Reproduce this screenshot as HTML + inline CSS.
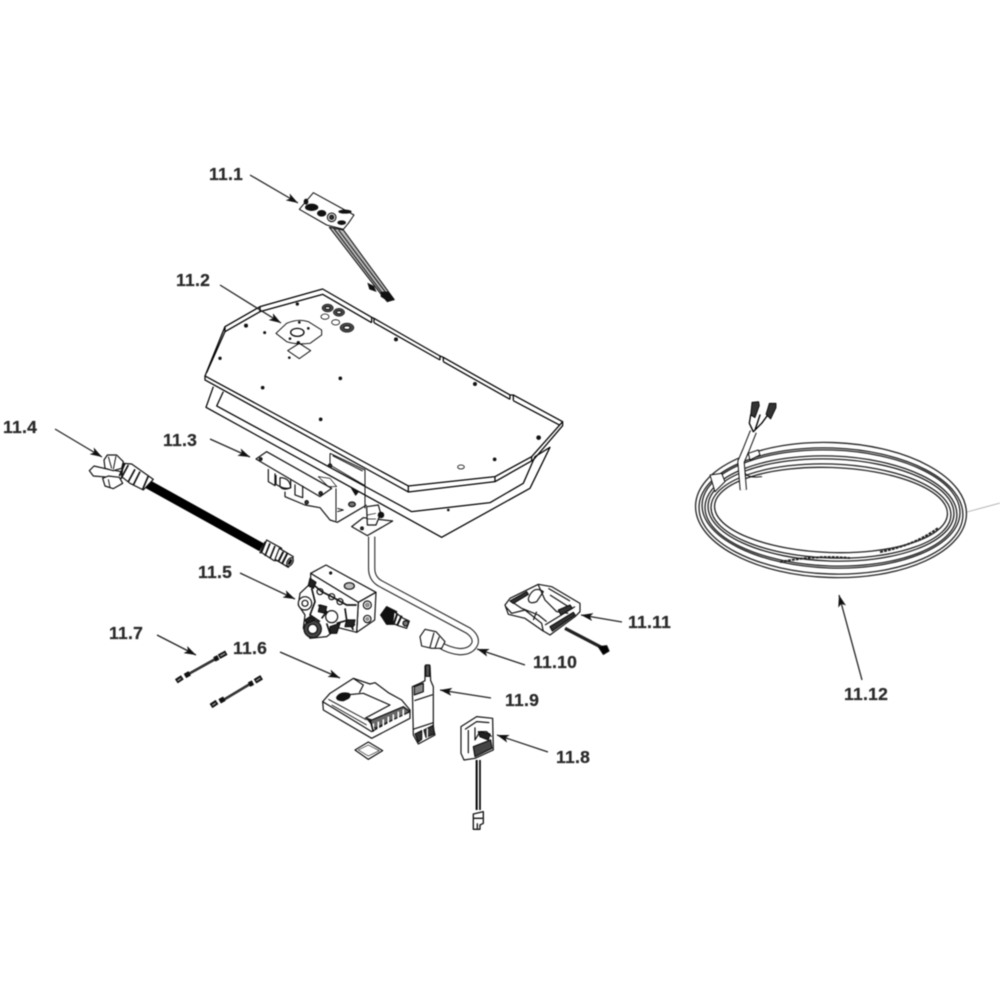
<!DOCTYPE html>
<html><head><meta charset="utf-8"><title>Parts diagram</title>
<style>
html,body{margin:0;padding:0;background:#fff}
svg{display:block;filter:blur(.55px)}
text{font-family:"Liberation Sans",sans-serif;font-weight:bold;font-size:17.5px;fill:#2a2a2a;stroke:#2a2a2a;stroke-width:.25px;letter-spacing:.25px}
</style></head><body>
<svg width="1000" height="1000" viewBox="0 0 1000 1000" xmlns="http://www.w3.org/2000/svg">
<rect width="1000" height="1000" fill="#fff"/>
<defs>
<marker id="a" viewBox="0 0 12 8" refX="12" refY="4" markerWidth="12" markerHeight="8" markerUnits="userSpaceOnUse" orient="auto"><path d="M0 0L12 4L0 8L3 4Z" fill="#111"/></marker>
</defs>
<g>
<!-- 11.2 tray -->
<g transform="translate(190,280) scale(.3333)" fill="none" stroke="#000" stroke-width="3.8" stroke-linejoin="round">
<path d="M70 320L48 382L755 772L1020 625L1080 502L1035 530L1000 610L900 668L665 695L80 378L100 335" fill="#fff"/>
<path d="M45 288L105 140L210 80L398 27L545 112L552 115L750 228L760 232L960 345L970 345L1118 425L1025 530L915 590L655 618Z" fill="#fff"/>
<path d="M50 278L105 155L210 95L398 43L545 128M552 128L750 240M760 245L960 358M970 362L1108 435M1118 425V437L1030 540L915 605L655 636L45 300V288"/>
<path d="M655 618V636M915 590V605M1025 530V542M545 112V128M552 115V128M750 228V240M760 232V245M960 345V358M970 345V362M105 140V155M210 80V95"/>
<path d="M258 160L290 130Q325 115 355 125L395 150V165L360 190Q320 195 290 185Z" stroke-width="2.8"/>
<ellipse cx="322" cy="157" rx="20" ry="12"/>
<path d="M293 212L328 190L362 212L328 236Z" stroke-width="2.8"/>
<g fill="#444" stroke-width="1.5">
<ellipse cx="413" cy="84" rx="17" ry="12"/><ellipse cx="447" cy="97" rx="17" ry="12"/><ellipse cx="471" cy="143" rx="21" ry="14"/>
</g>
<g fill="#fff" stroke-width="2.4"><ellipse cx="413" cy="84" rx="7" ry="4"/><ellipse cx="447" cy="97" rx="7" ry="4"/><ellipse cx="471" cy="143" rx="9" ry="5"/><ellipse cx="405" cy="110" rx="12" ry="8"/><ellipse cx="437" cy="127" rx="12" ry="8"/><ellipse cx="813" cy="561" rx="10" ry="6"/></g>
<g fill="#111" stroke="none">
<circle cx="224" cy="158" r="4.5"/><circle cx="451" cy="295" r="5.5"/><circle cx="218" cy="323" r="5.5"/><circle cx="392" cy="418" r="5.5"/><circle cx="914" cy="538" r="5.5"/><circle cx="1046" cy="473" r="7"/><circle cx="855" cy="312" r="6"/><circle cx="618" cy="178" r="6"/><circle cx="168" cy="137" r="6"/><circle cx="90" cy="235" r="5"/><circle cx="322" cy="72" r="5"/><circle cx="298" cy="233" r="4"/><circle cx="325" cy="188" r="5"/><circle cx="300" cy="176" r="4"/><circle cx="355" cy="145" r="4"/><circle cx="328" cy="127" r="4"/><circle cx="775" cy="690" r="4"/>
</g>
</g>
<!-- 11.3 bracket -->
<g transform="translate(250,445) scale(.3333)" fill="none" stroke="#111" stroke-width="3.6" stroke-linejoin="round">
<path d="M18 42L50 20L245 130L210 155Z" fill="#fff"/>
<path d="M55 72V110L75 122V85M78 90V118Q105 135 122 128L122 102M135 118V150L158 158V122M105 140L105 155L165 180L210 188L240 225L262 232L350 180" />
<path d="M90 98Q120 98 122 128Q100 138 90 125Z"/>
<path d="M240 25V60L345 122V75L240 25M248 32L338 78M258 130V228M345 122V190M262 190L280 195L262 200" stroke-width="3"/>
<path d="M205 95L240 100L260 125L235 125Z" stroke-width="2.2"/>
<path d="M305 245L340 218L428 228L352 272Z" fill="#fff"/>
<path d="M350 185L385 180L392 205L378 240H352Z" fill="#fff"/>
<path d="M352 210L378 205M352 222H378" stroke-width="2"/>
<circle cx="393" cy="210" r="8" fill="#111"/><ellipse cx="306" cy="178" rx="10" ry="7" fill="#777"/><path d="M305 130L325 140L317 150Z" fill="#111"/><circle cx="170" cy="172" r="5" fill="#444"/><circle cx="336" cy="250" r="4" fill="#444"/><circle cx="212" cy="145" r="5" fill="#333"/><circle cx="32" cy="42" r="4" fill="#333"/><circle cx="240" cy="62" r="5" fill="#333"/>
</g>
<!-- 11.1 -->
<g transform="translate(280,180) scale(.3333)" stroke="#111" stroke-width="3.2" fill="none" stroke-linejoin="round">
<path d="M148 142L190 150L342 358L322 365L305 345Z" fill="#bbb"/>
<path d="M162 146L315 350M176 150L328 352" stroke-width="3"/>
<path d="M58 88L100 38L222 105L205 130L190 148L140 135Z" fill="#fff"/>
<g fill="#111" stroke="none"><ellipse cx="95" cy="82" rx="20" ry="11"/><ellipse cx="125" cy="100" rx="14" ry="10"/><ellipse cx="185" cy="128" rx="13" ry="7"/><ellipse cx="195" cy="95" rx="20" ry="6"/><ellipse cx="78" cy="65" rx="7" ry="9"/><path d="M262 308L282 318L290 336L268 328ZM302 335L325 335L345 360L325 365L302 350Z"/></g>
<circle cx="155" cy="112" r="13" fill="#ddd"/><circle cx="155" cy="112" r="6" fill="#333"/>
</g>
<!-- 11.4 -->
<g transform="translate(80,440) scale(.3333)" stroke="#111" stroke-width="3.6" fill="#fff" stroke-linejoin="round">
<path d="M190 125L545 322" stroke="#000" stroke-width="27" fill="none"/>
<path d="M28 92L42 78L85 88L125 95L125 115L90 112L40 108Z"/>
<path d="M72 60L82 45L110 45L130 65L125 85L100 92L75 85Z"/>
<path d="M68 115L85 108L118 112L128 130L100 146L75 138Z"/>
<path d="M130 70L155 72L220 118L190 150L150 130L125 110Z"/>
<path d="M135 70L118 108M145 75L125 112" stroke-width="5" fill="none"/>
<path d="M165 88L145 125M180 95L160 135M205 108L188 148" stroke-width="5" fill="none"/>
<path d="M85 50L95 85M108 48L100 88M85 118L90 142" stroke-width="3" fill="none"/>
<path d="M545 338L560 300L605 325L592 362L582 362Z"/>
<path d="M556 305L540 340M570 310L555 348M585 318L570 355" stroke-width="5" fill="none"/>
<path d="M598 325L640 350L625 382L585 358Z"/>
<path d="M610 335L595 365M622 340L606 372" stroke-width="6" fill="none"/>
<ellipse cx="630" cy="366" rx="8" ry="14" transform="rotate(30 630 366)"/><ellipse cx="630" cy="366" rx="3" ry="8" fill="#111" transform="rotate(30 630 366)"/>
</g>
<!-- pipe -->
<g transform="translate(280,540) scale(.3333)" stroke-linejoin="round" fill="none">
<path d="M275 -10V85Q275 115 300 130L565 272Q590 290 585 310Q575 335 540 335Q510 333 480 315" stroke="#222" stroke-width="22"/>
<path d="M275 -14V85Q275 115 300 130L565 272Q590 290 585 310Q575 335 540 335Q510 333 480 315" stroke="#fff" stroke-width="15.5"/>
<g stroke="#111" stroke-width="3.4" fill="#fff">
<path d="M420 290L435 268L468 275L495 305L485 325L455 325L425 318Z"/>
<path d="M462 278L450 322M478 290L465 325" fill="none"/>
</g>
</g>
<!-- 11.5 valve -->
<g transform="translate(290,555) scale(.3333)" stroke="#111" stroke-width="3.6" fill="#fff" stroke-linejoin="round">
<path d="M62 55L108 30L258 112L205 142Z"/>
<path d="M205 142L258 112L254 195L200 232Z"/>
<path d="M62 55V85L30 115L25 150L45 180L40 220L60 250L110 245L145 218L200 232L205 142Z"/>
<circle cx="232" cy="150" r="12"/><circle cx="232" cy="192" r="11"/>
<circle cx="232" cy="150" r="6" fill="#999" stroke-width="1"/><circle cx="232" cy="192" r="5" fill="#999" stroke-width="1"/>
<ellipse cx="178" cy="93" rx="15" ry="10" fill="#bbb"/>
<circle cx="45" cy="145" r="20"/><circle cx="45" cy="145" r="9"/>
<circle cx="68" cy="222" r="26" fill="#444"/><circle cx="68" cy="222" r="14"/>
<circle cx="90" cy="110" r="9"/><circle cx="125" cy="125" r="9"/><circle cx="150" cy="140" r="9"/>
<circle cx="125" cy="185" r="18"/>
<path d="M62 82L95 110L125 125L170 150L200 150M65 100L75 140L60 180L90 200M85 150L110 170L95 190M110 205L120 235M140 205L175 195M165 160L170 195L195 210M180 205L190 225" stroke-width="5" fill="none"/>
<path d="M60 70L78 82L70 100L55 92ZM90 150L110 155L105 175L85 170ZM170 195L195 195L190 215L165 215ZM120 215L150 205L140 235L120 235ZM45 195L60 185L75 195L50 205Z" fill="#222"/>
<circle cx="122" cy="54" r="3" fill="#222"/>
<path d="M272 180L290 155L320 170L312 208L290 208Z" fill="#111"/>
<path d="M312 170L340 190L358 198L350 220L325 212L308 205Z"/>
<path d="M322 175L312 205M335 182L322 210" stroke-width="6" fill="none"/>
<circle cx="347" cy="205" r="8" fill="#777"/>
</g>
<!-- 11.6 module + 11.9 -->
<g transform="translate(320,660) scale(.3333)" stroke="#111" stroke-width="3.6" fill="#fff" stroke-linejoin="round">
<path d="M8 125L10 150L155 235L270 175L270 150L155 205Z"/>
<path d="M8 125L30 100L100 55L150 72L165 68L205 98L245 120L270 150L155 215Z"/>
<path d="M100 55L130 75L118 98M75 105L130 100L210 135L135 175" fill="none"/>
<path d="M50 112Q60 95 85 100Q95 105 85 115L70 122Q50 122 50 112Z" fill="#111"/>
<path d="M25 118L140 180M35 135L140 195" stroke-width="2.8" fill="none"/>
<path d="M140 175L165 205L270 155L250 140L155 180Z" fill="#666"/>
<path d="M160 190V205M175 185V207M190 178V200M205 170V192M220 163V185M235 155V178M250 148V170" stroke="#fff" stroke-width="5" fill="none"/>
<path d="M150 178L160 215" stroke-width="5" fill="none"/>
<path d="M105 270L145 246L188 272L145 298Z"/>
<path d="M115 270L145 255L178 272L145 288Z" fill="none" stroke-width="2"/>
<!-- 11.9 -->
<path d="M315 18H330L332 62L340 80V205L345 225L295 252L280 225L277 80L300 70L315 62Z"/>
<path d="M283 122L338 104M279 208L340 188" fill="none"/>
<path d="M283 80L310 70V95L283 105Z" fill="#888"/>
<path d="M285 222L305 212V238L295 246ZM312 210L340 196L343 222L318 232Z" fill="#333"/>
<path d="M322 205V232" stroke="#fff" stroke-width="4" fill="none"/>
<rect x="317" y="15" width="12" height="34" fill="#555"/>
</g>
<!-- 11.8 -->
<g transform="translate(280,540) scale(.3333)" stroke="#111" stroke-width="3.6" fill="#fff" stroke-linejoin="round">
<path d="M543 560L590 530L638 535L640 630L585 655L552 660L543 640Z"/>
<path d="M555 568L590 545L628 548M565 570V640M585 562V600L600 575H620L635 590" fill="none"/>
<path d="M580 620L632 600L636 625L585 650Z" fill="#444"/>
<path d="M595 575L630 582L625 600L600 590Z" fill="#222"/>
<path d="M590 660V810" stroke="#000" stroke-width="6" fill="none"/><path d="M600 660V810" stroke="#000" stroke-width="5" fill="none"/>
<path d="M580 822L610 815V850L600 855V868H580Z" stroke-width="4"/>
<path d="M582 835H608M592 850V866" fill="none" stroke-width="4"/>
</g>
<!-- 11.11 -->
<g transform="translate(495,575) scale(.3333)" stroke="#111" stroke-width="3.6" fill="#fff" stroke-linejoin="round">
<path d="M210 160L325 220" stroke="#222" stroke-width="10" fill="none"/>
<path d="M310 215L335 212L342 228L325 238Z" fill="#000"/>
<path d="M30 90L45 70L130 28L170 35L255 85L255 110L240 125L165 180L140 165L90 130L40 118Z"/>
<path d="M32 95L50 115L90 105L140 145L145 170M50 80L80 100L130 120L155 140M130 30L150 75L185 110L220 115M100 70Q115 30 145 50L125 80Q100 90 100 70M165 60L220 95M150 150L240 95M160 40L225 78M125 110L115 135" fill="none"/>
<path d="M45 78L95 50L100 58L55 85ZM190 105L225 90L232 100L198 120ZM165 155L235 112L240 120L172 168Z" fill="#333"/>
</g>
<!-- 11.7 wires -->
<g transform="translate(165,640) scale(.3333)" fill="none">
<path d="M60 108L155 55M172 182L255 132" stroke="#333" stroke-width="8"/>
<path d="M34 124L52 112M60 108L74 100M162 50L184 38M148 58L160 52M138 198L156 186M164 184L178 176M270 124L290 112M252 134L264 128" stroke="#111" stroke-width="15"/>
<path d="M38 122L48 115M166 48L180 40M142 196L152 189M274 122L286 114" stroke="#999" stroke-width="4"/>
</g>
<!-- 11.12 coil -->
<g transform="translate(831,510) rotate(2)" fill="none" stroke="#222" stroke-width="1.3">
<ellipse rx="135.5" ry="67.5"/><ellipse cx="0" cy="1" rx="132" ry="63"/><ellipse cx="0" cy="-1" rx="129" ry="59"/>
<ellipse cx="0" cy="1" rx="126" ry="55"/><ellipse cx="0" cy="0" rx="123" ry="51"/><ellipse cx="0" cy="1" rx="120" ry="47"/>
<ellipse rx="116.5" ry="42.5"/>
</g>
<path d="M780 562Q815 555 850 558M880 552Q915 545 938 528" stroke="#222" stroke-width="2" stroke-dasharray="3 1" fill="none"/>
<g transform="translate(690,395) scale(.3333)" fill="none" stroke-linejoin="round" stroke-linecap="round">
<path d="M60 240L95 235L105 260L75 290ZM175 175L205 165L210 180L180 195Z" fill="#fff" stroke="#111" stroke-width="3"/>
<path d="M160 285L153 200L168 165L190 110" stroke="#111" stroke-width="22" stroke-linecap="butt"/>
<path d="M160 285L153 200L168 165L190 110" stroke="#fff" stroke-width="16" stroke-linecap="butt"/>
<path d="M165 235Q175 250 215 245" stroke="#111" stroke-width="3"/>
<path d="M190 110L178 85L182 60M190 110L215 85L232 62M195 105L210 60" stroke="#000" stroke-width="4"/>
<path d="M182 60L186 22L206 20L208 32L195 68Z" fill="#333" stroke="#000" stroke-width="2.5"/>
<path d="M228 58L238 25L258 25L258 38L242 72Z" fill="#333" stroke="#000" stroke-width="2.5"/>
</g>
<path d="M967 512L1000 503" stroke="#aaa" stroke-width=".9" fill="none"/>
<!-- leaders -->
<g stroke="#222" stroke-width="1.3" fill="none">
<path d="M250 175L298 203" marker-end="url(#a)"/>
<path d="M220 285L281 323" marker-end="url(#a)"/>
<path d="M210 439L250 457" marker-end="url(#a)"/>
<path d="M55 429L102 457" marker-end="url(#a)"/>
<path d="M240 573L295 599" marker-end="url(#a)"/>
<path d="M280 652L340 678" marker-end="url(#a)"/>
<path d="M157 635L196 655" marker-end="url(#a)"/>
<path d="M548 752L497 735" marker-end="url(#a)"/>
<path d="M491 698L440 690" marker-end="url(#a)"/>
<path d="M525 665L477 649" marker-end="url(#a)"/>
<path d="M622 622L581 615" marker-end="url(#a)"/>
<path d="M862 680L839 595" marker-end="url(#a)"/>
</g>
<g>
<text x="209" y="180">11.1</text>
<text x="176" y="286">11.2</text>
<text x="163" y="446">11.3</text>
<text x="3" y="433">11.4</text>
<text x="198" y="578">11.5</text>
<text x="233" y="654">11.6</text>
<text x="109" y="639">11.7</text>
<text x="556" y="763">11.8</text>
<text x="505" y="706">11.9</text>
<text x="533" y="668">11.10</text>
<text x="628" y="628">11.11</text>
<text x="844" y="700">11.12</text>
</g>
</g>
</svg>
</body></html>
